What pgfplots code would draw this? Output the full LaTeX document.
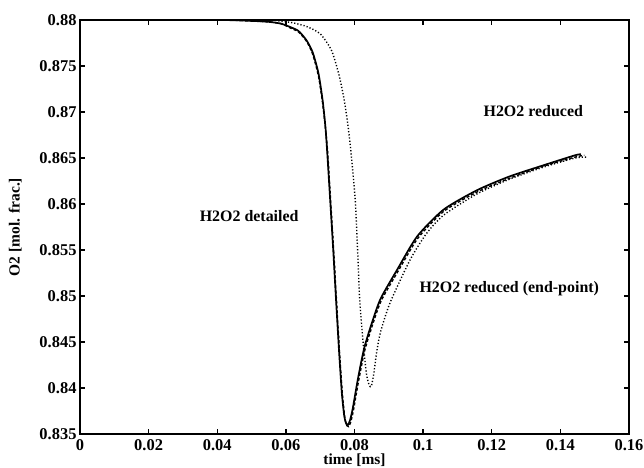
\documentclass[border=0pt]{standalone}
\usepackage{pgfplots}
\pgfplotsset{compat=1.18}
\usepackage{fontspec}
\setmainfont{Liberation Serif}
\begin{document}
\begin{tikzpicture}
\begin{axis}[
  name=ax, at={(0,0)}, anchor=south west,
  scale only axis, width=549bp, height=414bp,
  xmin=0, xmax=0.16, ymin=0.835, ymax=0.88,
  xtick={0,0.02,0.04,0.06,0.08,0.1,0.12,0.14,0.16},
  ytick={0.835,0.84,0.845,0.85,0.855,0.86,0.865,0.87,0.875,0.88},
  tick align=inside, major tick length=5bp,
  axis line style={line width=1.8bp},
  tick style={line width=1.3bp, black},
  scaled ticks=false,
  /pgf/number format/assume math mode=true,
  tick label style={font=\fontsize{16.5}{18}\selectfont\bfseries},
  xticklabel style={/pgf/number format/fixed, /pgf/number format/precision=2, inner sep=0pt, yshift=-5bp},
  yticklabel style={/pgf/number format/fixed, /pgf/number format/precision=3},
  xlabel={time [ms]}, ylabel={O2 [mol. frac.]},
  label style={font=\fontsize{15.5}{17}\selectfont\bfseries},
  xlabel style={at={(axis description cs:0.5,0)}, anchor=center, inner sep=0pt, yshift=-26.5bp},
  ylabel style={at={(axis description cs:-0.118,0.5)}, anchor=center},
  clip=false,
]
% H2O2 detailed (solid)
\addplot[black, line width=1.7bp, smooth, tension=0.4] coordinates {
(0,0.88) (0.04,0.88) (0.05,0.8799) (0.055,0.8798) (0.0586,0.8796) (0.0615,0.8792)
(0.0637,0.8788) (0.066,0.8778) (0.0678,0.8765) (0.0695,0.8742) (0.0707,0.8713)
(0.0715,0.8685) (0.072,0.8659) (0.0729,0.8605) (0.0738,0.8550) (0.0746,0.8497)
(0.0755,0.8440) (0.0763,0.8395) (0.0770,0.8370) (0.0776,0.8361) (0.0781,0.8360)
(0.0787,0.8365) (0.0795,0.8378) (0.0810,0.8410) (0.0828,0.8443) (0.0850,0.8470)
(0.0876,0.8497) (0.0925,0.8529) (0.0983,0.8565) (0.106,0.8594) (0.1157,0.8615)
(0.1252,0.8630) (0.135,0.8642) (0.1443,0.8653) (0.146,0.8654)
};
% H2O2 reduced (dashed)
\addplot[black, line width=1.4bp, dash pattern=on 3bp off 2bp, smooth, tension=0.4] coordinates {
(0,0.88) (0.04,0.88) (0.05,0.8799) (0.055,0.8798) (0.0586,0.8796) (0.0615,0.8791)
(0.0637,0.8787) (0.066,0.8777) (0.0678,0.8763) (0.0695,0.8739) (0.0707,0.8710)
(0.0716,0.8680) (0.0722,0.8655) (0.0731,0.8600) (0.0740,0.8545) (0.0748,0.8492)
(0.0757,0.8435) (0.0765,0.8392) (0.0772,0.8367) (0.0778,0.8359) (0.0783,0.8358)
(0.0789,0.8363) (0.0797,0.8376) (0.0812,0.8408) (0.0830,0.8441) (0.0852,0.8468)
(0.0878,0.8495) (0.0927,0.8527) (0.0985,0.8563) (0.106,0.8592) (0.1157,0.8613)
(0.1252,0.8628) (0.135,0.8641) (0.1443,0.8651) (0.147,0.8653)
};
% H2O2 reduced (end-point) (dotted)
\addplot[black, line width=1.4bp, dash pattern=on 1.2bp off 2bp, smooth, tension=0.4] coordinates {
(0,0.88) (0.04,0.88) (0.055,0.88) (0.058,0.8799) (0.062,0.8797) (0.066,0.8793)
(0.070,0.8785) (0.0733,0.8767) (0.0755,0.8740) (0.0770,0.8713) (0.0780,0.8688)
(0.0789,0.8659) (0.0802,0.8605) (0.0809,0.8550) (0.0815,0.8497) (0.0825,0.8450)
(0.0835,0.8415) (0.0843,0.8403) (0.0849,0.8402) (0.0856,0.8415) (0.0865,0.8440)
(0.0876,0.8461) (0.0904,0.8493) (0.0963,0.8540) (0.1010,0.8568) (0.106,0.8588)
(0.1157,0.8611) (0.1252,0.8627) (0.135,0.8640) (0.1443,0.8650) (0.1475,0.8651)
};
\node[font=\fontsize{16}{18}\selectfont\bfseries] at (axis cs:0.0493,0.8587) {H2O2 detailed};
\node[font=\fontsize{16}{18}\selectfont\bfseries] at (axis cs:0.1321,0.8701) {H2O2 reduced};
\node[font=\fontsize{16}{18}\selectfont\bfseries] at (axis cs:0.1251,0.8508) {H2O2 reduced (end-point)};
\end{axis}
\pgfresetboundingbox
\path (-80bp,-34bp) rectangle (564bp,434bp);
\end{tikzpicture}
\end{document}
